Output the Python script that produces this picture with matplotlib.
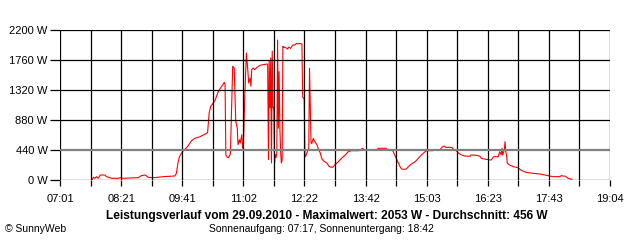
import matplotlib
matplotlib.use("Agg")
import matplotlib.pyplot as plt
import numpy as np

plt.rcParams['font.family'] = ['Liberation Sans', 'DejaVu Sans']

# Leistung in W, Zeit als HH:MM (29.09.2010)
times = ["07:43", "07:45", "07:47", "07:49", "07:51", "07:54", "08:00", "08:02", "08:09", "08:18",
         "08:20", "08:24", "08:44", "08:48", "08:53", "08:57", "09:04", "09:17", "09:32", "09:34",
         "09:36", "09:38", "09:42", "09:48", "09:54", "09:58", "10:05", "10:12", "10:15", "10:17",
         "10:19", "10:25", "10:29", "10:37", "10:38", "10:39", "10:41", "10:43", "10:44", "10:45",
         "10:47", "10:48", "10:50", "10:51", "10:52", "10:54", "10:55", "10:57", "10:58", "11:00",
         "11:01", "11:02", "11:03", "11:04", "11:06", "11:08", "11:09", "11:11", "11:12", "11:13",
         "11:15", "11:17", "11:20", "11:24", "11:28", "11:34", "11:35", "11:36", "11:37", "11:38",
         "11:39", "11:40", "11:41", "11:42", "11:43", "11:44", "11:45", "11:46", "11:47", "11:48",
         "11:49", "11:50", "11:51", "11:52", "11:53", "11:54", "11:55", "11:58", "12:00", "12:02",
         "12:04", "12:07", "12:10", "12:12", "12:14", "12:16", "12:19", "12:20", "12:21", "12:22",
         "12:23", "12:24", "12:25", "12:27", "12:28", "12:29", "12:30", "12:31", "12:32", "12:34",
         "12:36", "12:39", "12:41", "12:43", "12:45", "12:47", "12:49", "12:52", "12:55", "12:58",
         "13:00", "13:02", "13:07", "13:11", "13:16", "13:20", "13:24", "13:34", "13:39", "13:41",
         "13:58", "13:59", "14:10", "14:11", "14:18", "14:19", "14:21", "14:24", "14:26", "14:28",
         "14:30", "14:32", "14:36", "14:39", "14:43", "14:48", "14:52", "14:56", "15:01", "15:03",
         "15:11", "15:13", "15:20", "15:23", "15:26", "15:28", "15:36", "15:38", "15:42", "15:45",
         "15:49", "15:53", "16:00", "16:01", "16:09", "16:13", "16:15", "16:20", "16:28", "16:31",
         "16:37", "16:39", "16:41", "16:42", "16:43", "16:45", "16:46", "16:47", "16:48", "16:49",
         "16:52", "16:57", "17:03", "17:08", "17:14", "17:23", "17:32", "17:41", "17:49", "17:58",
         "18:00", "18:05", "18:09", "18:14"]
watts = [0, 39, 25, 49, 25, 73, 73, 49, 25, 25,
         34, 25, 34, 64, 73, 39, 34, 49, 59, 98,
         245, 342, 416, 479, 577, 611, 635, 675, 694, 978,
         1075, 1173, 1295, 1433, 1400, 367, 332, 332, 367, 380,
         1276, 1667, 1643, 1251, 865, 763, 518, 591, 543, 665,
         469, 469, 885, 1251, 1863, 1594, 1423, 1496, 1374, 1618,
         1643, 1618, 1653, 1682, 1692, 1701, 300, 1740, 1060, 1790,
         250, 1890, 1060, 1060, 250, 370, 330, 400, 2053, 760,
         1590, 780, 420, 250, 290, 1960, 1950, 1940, 1920, 1950,
         1930, 1980, 1980, 2005, 1995, 2005, 1995, 1220, 1200, 1200,
         340, 350, 380, 440, 440, 1640, 1050, 540, 538, 611,
         562, 513, 440, 401, 318, 284, 270, 245, 196, 186,
         190, 220, 269, 318, 367, 416, 430, 430, 465, 440,
         440, 465, 465, 440, 440, 416, 367, 293, 245, 196,
         161, 156, 160, 196, 235, 269, 318, 367, 416, 430,
         430, 440, 440, 479, 499, 479, 479, 450, 430, 391,
         367, 352, 347, 367, 362, 347, 318, 305, 293, 342,
         342, 416, 367, 465, 367, 440, 562, 416, 367, 245,
         220, 196, 181, 137, 112, 98, 88, 68, 49, 49,
         64, 55, 25, 10]

x_labels = ["07:01", "08:21", "09:41", "11:02", "12:22", "13:42", "15:03", "16:23", "17:43", "19:04"]
y_values = [0, 440, 880, 1320, 1760, 2200]
y_labels = ["0 W", "440 W", "880 W", "1320 W", "1760 W", "2200 W"]

title = "Leistungsverlauf vom 29.09.2010 - Maximalwert: 2053 W - Durchschnitt: 456 W"
subtitle = "Sonnenaufgang: 07:17, Sonnenuntergang: 18:42"


def to_min(s):
    h, m = s.split(":")
    return int(h) * 60 + int(m)


x = np.array([to_min(t) for t in times])
start = to_min(x_labels[0])
end = to_min(x_labels[-1])
grid_x = np.linspace(start, end, 19)

fig = plt.figure(figsize=(6.4, 2.4), dpi=100)
ax = fig.add_axes([60 / 640, 60 / 240, 550 / 640, 150 / 240])

ax.plot(x, watts, color='#ff0000', lw=0.8, zorder=2)

# Gitter liegt ueber der Kurve
for gx in grid_x:
    ax.axvline(gx, color='black', lw=0.9, zorder=3)
for yv in y_values:
    if yv == 440:
        ax.axhline(yv, color='#808080', lw=1.6, zorder=4)
    else:
        ax.axhline(yv, color='black', lw=0.9, zorder=3)

ax.set_xlim(start, end)
ax.set_ylim(0, 2200)
for s in ax.spines.values():
    s.set_visible(False)

ax.set_xticks(grid_x[::2])
ax.set_xticklabels(x_labels)
ax.set_xticks(grid_x[1::2], minor=True)
ax.set_yticks(y_values)
ax.set_yticklabels(y_labels)
ax.tick_params(axis='x', which='both', length=4, width=0.9, direction='out', pad=6, labelsize=8)
ax.tick_params(axis='y', length=7, width=0.9, direction='out', pad=2, labelsize=8)
ax.patch.set_facecolor('white')

fig.text(0.511, 0.10, title, ha='center', va='center', fontsize=8.6, fontweight='bold')
fig.text(0.502, 0.046, subtitle, ha='center', va='center', fontsize=7.5)
fig.text(0.008, 0.046, "© SunnyWeb", ha='left', va='center', fontsize=7.5)

fig.savefig("out.png", dpi=100)
